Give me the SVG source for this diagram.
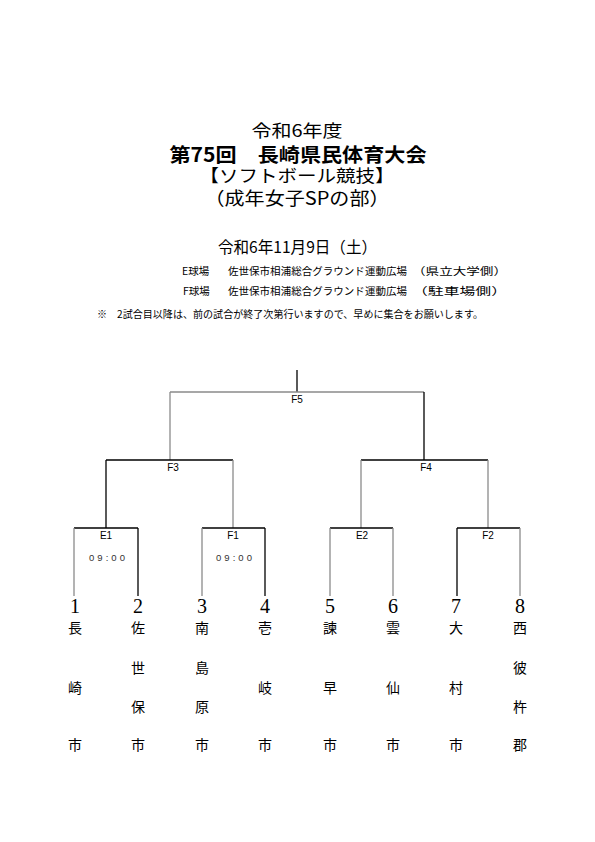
<svg xmlns="http://www.w3.org/2000/svg" width="595" height="842" viewBox="0 0 595 842">
<style>
.jp{font-family:"Noto Sans CJK JP","Noto Sans CJK SC",sans-serif;fill:#000}
.t{text-anchor:middle}
.lbl{font-family:"Liberation Sans","DejaVu Sans",sans-serif;font-size:10px;text-anchor:middle;fill:#000}
.tm{font-family:"Liberation Sans","DejaVu Sans",sans-serif;font-size:9.5px;fill:#333}
.num{font-family:"Liberation Serif","DejaVu Serif",serif;font-size:20px;text-anchor:middle;fill:#000}
.nm{font-family:"Noto Sans CJK JP","Noto Sans CJK SC",sans-serif;font-size:14px;text-anchor:middle;fill:#000}
.k{stroke:#000;stroke-width:1.3;fill:none}
.g{stroke:#8a8a8a;stroke-width:1.3;fill:none}
</style>
<rect width="595" height="842" fill="#fff"/>
<g id="header">
<text class="jp t" x="297" y="137" font-size="17.5" textLength="91" lengthAdjust="spacingAndGlyphs">令和6年度</text>
<text class="jp t" x="298" y="161.5" font-size="19.5" font-weight="bold" textLength="257" lengthAdjust="spacingAndGlyphs">第75回　長崎県民体育大会</text>
<text class="jp t" x="297" y="182" font-size="17.5" textLength="195" lengthAdjust="spacingAndGlyphs">【ソフトボール競技】</text>
<text class="jp t" x="297" y="205" font-size="18" textLength="185" lengthAdjust="spacingAndGlyphs">（成年女子SPの部）</text>
<text class="jp" x="218" y="253" font-size="16" textLength="159" lengthAdjust="spacingAndGlyphs">令和6年11月9日（土）</text>
<text class="jp" x="182" y="275" font-size="10.5">E球場</text>
<text class="jp" x="228" y="275" font-size="10.5" textLength="179" lengthAdjust="spacingAndGlyphs">佐世保市相浦総合グラウンド運動広場</text>
<text class="jp" x="412" y="275" font-size="10.5" textLength="95" lengthAdjust="spacingAndGlyphs">（県立大学側）</text>
<text class="jp" x="183" y="295" font-size="10.5">F球場</text>
<text class="jp" x="228" y="295" font-size="10.5" textLength="179" lengthAdjust="spacingAndGlyphs">佐世保市相浦総合グラウンド運動広場</text>
<text class="jp" x="412" y="295" font-size="10.5" textLength="95" lengthAdjust="spacingAndGlyphs">（駐車場側）</text>
<text class="jp" x="97" y="318" font-size="10" textLength="386" lengthAdjust="spacingAndGlyphs">※　2試合目以降は、前の試合が終了次第行いますので、早めに集合をお願いします。</text>
</g>
<g id="connectors">
<line class="k" x1="297" y1="370" x2="297" y2="392"/>
<line class="g" x1="170" y1="392" x2="424" y2="392"/>
<line class="g" x1="170" y1="392" x2="170" y2="460"/>
<line class="k" x1="424" y1="392" x2="424" y2="460"/>
<line class="k" x1="106" y1="460" x2="233" y2="460"/>
<line class="k" x1="361" y1="460" x2="488" y2="460"/>
<line class="k" x1="106" y1="460" x2="106" y2="528"/>
<line class="g" x1="233" y1="460" x2="233" y2="528"/>
<line class="g" x1="361" y1="460" x2="361" y2="528"/>
<line class="g" x1="488" y1="460" x2="488" y2="528"/>
<line class="k" x1="74" y1="528" x2="138" y2="528"/>
<line class="k" x1="202" y1="528" x2="265" y2="528"/>
<line class="k" x1="330" y1="528" x2="393" y2="528"/>
<line class="k" x1="457" y1="528" x2="520" y2="528"/>
<line class="g" x1="74" y1="528" x2="74" y2="596"/>
<line class="k" x1="138" y1="528" x2="138" y2="596"/>
<line class="g" x1="202" y1="528" x2="202" y2="596"/>
<line class="k" x1="265" y1="528" x2="265" y2="596"/>
<line class="g" x1="330" y1="528" x2="330" y2="596"/>
<line class="g" x1="393" y1="528" x2="393" y2="596"/>
<line class="k" x1="457" y1="528" x2="457" y2="596"/>
<line class="g" x1="520" y1="528" x2="520" y2="596"/>
</g>
<g id="match-F5"><text class="lbl" x="297" y="403">F5</text></g>
<g id="match-F3"><text class="lbl" x="173" y="471">F3</text></g>
<g id="match-F4"><text class="lbl" x="426" y="471">F4</text></g>
<g id="match-E1"><text class="lbl" x="106" y="539">E1</text><text class="tm" x="89" y="561" textLength="36" lengthAdjust="spacing">09:00</text></g>
<g id="match-F1"><text class="lbl" x="233" y="539">F1</text><text class="tm" x="216" y="561" textLength="36" lengthAdjust="spacing">09:00</text></g>
<g id="match-E2"><text class="lbl" x="362" y="539">E2</text></g>
<g id="match-F2"><text class="lbl" x="488" y="539">F2</text></g>
<g id="team-1"><text class="num" x="75" y="613">1</text><text class="nm" x="75" y="633">長</text><text class="nm" x="75" y="693">崎</text><text class="nm" x="75" y="750">市</text></g>
<g id="team-2"><text class="num" x="138" y="613">2</text><text class="nm" x="138" y="633">佐</text><text class="nm" x="138" y="673">世</text><text class="nm" x="138" y="712">保</text><text class="nm" x="138" y="750">市</text></g>
<g id="team-3"><text class="num" x="202" y="613">3</text><text class="nm" x="202" y="633">南</text><text class="nm" x="202" y="673">島</text><text class="nm" x="202" y="712">原</text><text class="nm" x="202" y="750">市</text></g>
<g id="team-4"><text class="num" x="265" y="613">4</text><text class="nm" x="265" y="633">壱</text><text class="nm" x="265" y="693">岐</text><text class="nm" x="265" y="750">市</text></g>
<g id="team-5"><text class="num" x="330" y="613">5</text><text class="nm" x="330" y="633">諫</text><text class="nm" x="330" y="693">早</text><text class="nm" x="330" y="750">市</text></g>
<g id="team-6"><text class="num" x="393" y="613">6</text><text class="nm" x="393" y="633">雲</text><text class="nm" x="393" y="693">仙</text><text class="nm" x="393" y="750">市</text></g>
<g id="team-7"><text class="num" x="456" y="613">7</text><text class="nm" x="456" y="633">大</text><text class="nm" x="456" y="693">村</text><text class="nm" x="456" y="750">市</text></g>
<g id="team-8"><text class="num" x="520" y="613">8</text><text class="nm" x="520" y="633">西</text><text class="nm" x="520" y="673">彼</text><text class="nm" x="520" y="712">杵</text><text class="nm" x="520" y="750">郡</text></g>
</svg>
